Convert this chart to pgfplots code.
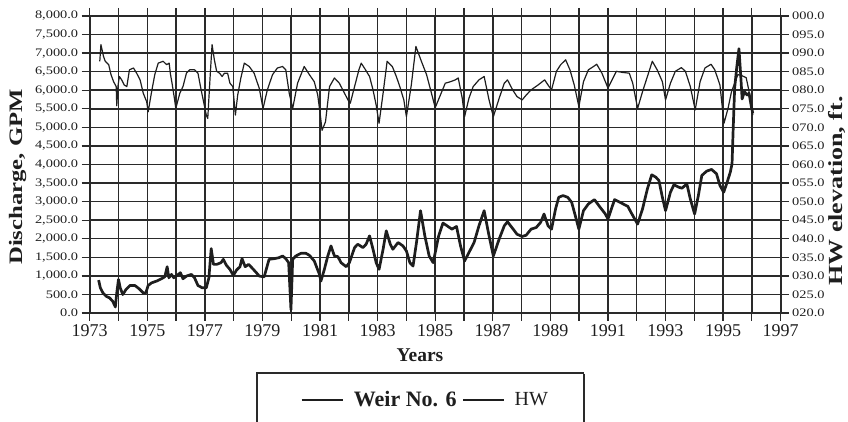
\documentclass[border=0pt]{standalone}
\usepackage{pgfplots}
\pgfplotsset{compat=1.18}
\usepackage{pgfplotstable}
\usepackage{fontspec}
\setmainfont{Liberation Serif}
\newfontfamily\wide[FakeStretch=1.25]{Liberation Serif}
\newfontfamily\widelabel[FakeStretch=1.3]{Liberation Serif}

\definecolor{ink}{HTML}{1E1E1E}
\definecolor{gridc}{HTML}{2A2A2A}

% Discharge at Weir No. 6 (GPM)
\pgfplotstableread{
t D
1973.31 886
1973.37 678
1973.46 542
1973.57 452
1973.69 407
1973.80 316
1973.89 163
1973.94 542
1974.00 904
1974.06 678
1974.15 497
1974.26 633
1974.40 741
1974.57 741
1974.72 651
1974.86 542
1974.95 542
1975.03 741
1975.15 813
1975.32 858
1975.49 922
1975.61 976
1975.69 1247
1975.75 949
1975.84 1039
1975.92 949
1976.03 1012
1976.15 1084
1976.24 922
1976.36 994
1976.53 1039
1976.64 949
1976.76 741
1976.91 678
1977.05 678
1977.14 949
1977.22 1735
1977.30 1310
1977.41 1310
1977.56 1355
1977.64 1446
1977.75 1283
1977.87 1175
1977.99 1012
1978.10 1157
1978.22 1247
1978.29 1464
1978.40 1247
1978.52 1310
1978.63 1220
1978.77 1102
1978.89 994
1979.06 976
1979.23 1446
1979.41 1464
1979.58 1491
1979.70 1536
1979.81 1464
1979.91 1355
1979.99 90
1980.05 1446
1980.16 1536
1980.34 1608
1980.51 1608
1980.63 1554
1980.80 1401
1980.98 1039
1981.03 858
1981.15 1175
1981.27 1536
1981.38 1807
1981.50 1536
1981.62 1518
1981.73 1355
1981.91 1247
1982.02 1355
1982.20 1762
1982.31 1852
1982.49 1762
1982.60 1852
1982.72 2078
1982.84 1717
1982.95 1355
1983.05 1175
1983.19 1717
1983.30 2214
1983.44 1852
1983.53 1717
1983.71 1898
1983.88 1807
1984.00 1672
1984.12 1355
1984.23 1265
1984.35 1898
1984.49 2756
1984.64 2078
1984.79 1536
1984.93 1355
1985.12 2078
1985.27 2422
1985.41 2349
1985.58 2259
1985.74 2331
1985.88 1807
1986.02 1401
1986.17 1626
1986.35 1898
1986.52 2349
1986.70 2756
1986.87 2078
1987.02 1536
1987.22 1988
1987.40 2349
1987.51 2458
1987.69 2277
1987.84 2123
1988.02 2060
1988.16 2096
1988.33 2259
1988.51 2304
1988.66 2440
1988.78 2666
1988.92 2349
1989.04 2259
1989.18 2801
1989.29 3117
1989.44 3163
1989.60 3117
1989.74 2982
1989.85 2666
1989.99 2259
1990.15 2756
1990.32 2937
1990.53 3054
1990.73 2846
1990.91 2666
1991.00 2530
1991.23 3054
1991.46 2964
1991.69 2873
1991.80 2711
1992.03 2395
1992.20 2801
1992.37 3343
1992.52 3723
1992.66 3660
1992.77 3569
1992.89 3117
1993.00 2756
1993.17 3253
1993.29 3452
1993.46 3389
1993.57 3361
1993.74 3479
1993.86 3072
1994.01 2666
1994.14 3163
1994.26 3705
1994.43 3822
1994.60 3867
1994.77 3750
1994.89 3434
1995.02 3253
1995.14 3524
1995.25 3795
1995.31 4021
1995.35 4970
1995.40 6054
1995.47 6596
1995.55 7120
1995.61 6416
1995.66 5765
1995.74 5964
1995.83 5873
1995.90 5918
1995.97 5602
1996.03 5376
}\weirdata

% Headwater elevation (ft, last three digits)
\pgfplotstableread{
t E
1973.35 87.8
1973.39 92.3
1973.48 89.1
1973.54 87.8
1973.66 86.9
1973.74 84.2
1973.83 82.3
1973.92 81.0
1973.94 75.8
1973.98 81.0
1974.03 83.7
1974.11 82.8
1974.20 81.4
1974.29 81.0
1974.38 85.5
1974.52 86.0
1974.63 84.6
1974.75 82.8
1974.86 79.2
1974.98 76.9
1975.03 74.2
1975.15 79.6
1975.26 84.2
1975.38 87.3
1975.55 87.8
1975.67 86.9
1975.76 87.3
1975.80 84.6
1975.87 81.4
1975.95 77.4
1975.99 75.1
1976.13 79.2
1976.24 81.0
1976.36 84.6
1976.47 85.5
1976.64 85.5
1976.76 84.6
1976.87 80.1
1976.99 75.6
1977.05 73.3
1977.10 72.4
1977.18 83.3
1977.25 92.3
1977.33 88.2
1977.41 85.1
1977.51 84.6
1977.60 83.7
1977.68 84.6
1977.79 84.6
1977.87 81.9
1977.97 81.0
1978.06 73.3
1978.14 78.7
1978.25 83.3
1978.37 87.3
1978.54 86.4
1978.71 84.6
1978.89 80.5
1979.02 75.1
1979.17 80.1
1979.35 84.2
1979.52 86.0
1979.70 86.4
1979.81 85.5
1979.93 79.2
1980.05 75.1
1980.22 81.9
1980.45 86.4
1980.63 84.2
1980.80 82.3
1980.92 78.7
1981.01 73.3
1981.07 69.2
1981.19 71.5
1981.33 81.0
1981.50 83.3
1981.67 81.9
1981.85 79.2
1981.97 77.4
1982.05 76.5
1982.20 81.0
1982.35 85.5
1982.43 87.3
1982.58 85.5
1982.72 83.7
1982.84 80.1
1982.95 76.0
1983.05 71.1
1983.19 79.2
1983.33 87.8
1983.51 86.4
1983.65 83.7
1983.77 81.0
1983.91 77.4
1984.00 72.9
1984.17 81.4
1984.33 91.8
1984.52 87.8
1984.70 84.2
1984.87 79.2
1985.00 75.3
1985.18 78.7
1985.35 81.9
1985.53 82.3
1985.70 82.8
1985.80 83.3
1985.94 77.8
1986.02 72.9
1986.17 77.8
1986.32 81.0
1986.52 82.8
1986.70 83.7
1986.87 77.4
1987.02 72.9
1987.22 77.8
1987.40 81.9
1987.51 82.8
1987.69 80.1
1987.84 78.3
1988.02 77.4
1988.16 78.7
1988.33 80.1
1988.57 81.4
1988.80 82.8
1988.92 81.4
1989.04 80.1
1989.21 85.1
1989.36 86.9
1989.53 88.2
1989.68 85.5
1989.83 81.4
1989.99 75.6
1990.15 82.3
1990.32 85.5
1990.50 86.4
1990.61 87.0
1990.79 84.6
1991.00 80.6
1991.29 85.1
1991.51 84.8
1991.74 84.6
1991.86 81.9
1992.03 75.1
1992.20 79.6
1992.37 83.7
1992.54 87.8
1992.71 85.5
1992.89 82.3
1993.00 77.4
1993.17 81.9
1993.34 85.1
1993.55 86.1
1993.69 85.1
1993.86 81.0
1994.03 74.7
1994.20 82.3
1994.37 86.0
1994.58 87.0
1994.71 85.5
1994.89 81.4
1995.03 71.1
1995.17 75.1
1995.29 79.6
1995.42 82.3
1995.51 84.2
1995.63 84.0
1995.80 83.4
1995.88 80.5
1995.95 77.4
1996.03 73.3
}\hwdata

\tikzset{gridline/.style={line width=1.5pt, draw=gridc}}

\pgfplotsset{
  common/.style={
    scale only axis, width=691pt, height=297pt,
    at={(0pt,0pt)}, anchor=south west,
    xmin=1973, xmax=1997,
    tick align=outside,
    major tick length=8pt,
    axis line style={line width=1.7pt, draw=gridc},
    every tick/.append style={line width=1.3pt, draw=gridc},
    yticklabel style={font=\wide\fontsize{11.5}{12}\selectfont, text=ink},
  },
  weirline/.style={line width=2.7pt, draw=ink, line join=round},
  hwline/.style={line width=1.2pt, draw=ink, line join=round},
}

\begin{document}
\begin{tikzpicture}[x=1pt,y=1pt]
\useasboundingbox (-89.7,-109) rectangle (758.3,313);

% Left axis: discharge, with the year/discharge grid
\begin{axis}[
  common,
  ymin=0, ymax=8000,
  xtick={1973,1974,...,1997},
  xticklabels={1973,,1975,,1977,,1979,,1981,,1983,,1985,,1987,,1989,,1991,,1993,,1995,,1997},
  xticklabel style={font=\fontsize{18}{18}\selectfont, text=ink},
  ytick={0,500,...,8000},
  yticklabels={0.0,500.0,{1,000.0},{1,500.0},{2,000.0},{2,500.0},{3,000.0},{3,500.0},{4,000.0},{4,500.0},{5,000.0},{5,500.0},{6,000.0},{6,500.0},{7,000.0},{7,500.0},{8,000.0}},
  ylabel={\widelabel\bfseries Discharge, GPM},
  ylabel style={font=\fontsize{19}{20}\selectfont, at={(axis description cs:-0.1042,0.458)}, anchor=center, text=ink},
  xlabel={\bfseries Years},
  xlabel style={font=\fontsize{19.5}{20}\selectfont, at={(axis description cs:0.478,-0.1414)}, anchor=center, text=ink},
]
% grid: one line per year and per 500 GPM
\pgfplotsinvokeforeach{1974,1975,...,1996}{
  \draw[gridline] (axis cs:#1,0) -- (axis cs:#1,8000);
}
\pgfplotsinvokeforeach{500,1000,...,7500}{
  \draw[gridline] (axis cs:1973,#1) -- (axis cs:1997,#1);
}
\addplot[weirline] table[x=t, y=D] {\weirdata};
\end{axis}

% Right axis: headwater elevation
\begin{axis}[
  common,
  ymin=20, ymax=100,
  axis x line=none,
  axis y line*=right,
  ytick={20,25,...,100},
  yticklabels={020.0,025.0,030.0,035.0,040.0,045.0,050.0,055.0,060.0,065.0,070.0,075.0,080.0,085.0,090.0,095.0,000.0},
  ylabel={\widelabel\bfseries HW elevation, ft.},
  ylabel style={font=\fontsize{20}{21}\selectfont, at={(axis description cs:1.0815,0.411)}, anchor=center, rotate=0, text=ink},
  legend columns=2,
  legend style={at={(axis description cs:0.3043,-0.2929)}, anchor=west,
    draw=none, fill=none, inner sep=0pt, text=ink,
    nodes={inner sep=0pt},
    /tikz/every odd column/.append style={column sep=10pt},
    /tikz/every even column/.append style={column sep=6pt}},
  legend image code/.code={\draw[#1] (0pt,0pt) -- (41pt,0pt);},
]
\addlegendimage{weirline}
\addlegendentry{\fontsize{22}{22}\selectfont\bfseries Weir No. 6}
\addplot[hwline] table[x=t, y=E] {\hwdata};
\addlegendentry{\fontsize{20}{20}\selectfont HW}
\end{axis}

% Legend frame, running past the lower edge
\draw[line width=1.3pt, draw=gridc] (167.3,-140) -- (167.3,-60) -- (494.3,-60);
\draw[line width=2.6pt, draw=gridc] (494.3,-61) -- (494.3,-140);
\end{tikzpicture}
\end{document}
